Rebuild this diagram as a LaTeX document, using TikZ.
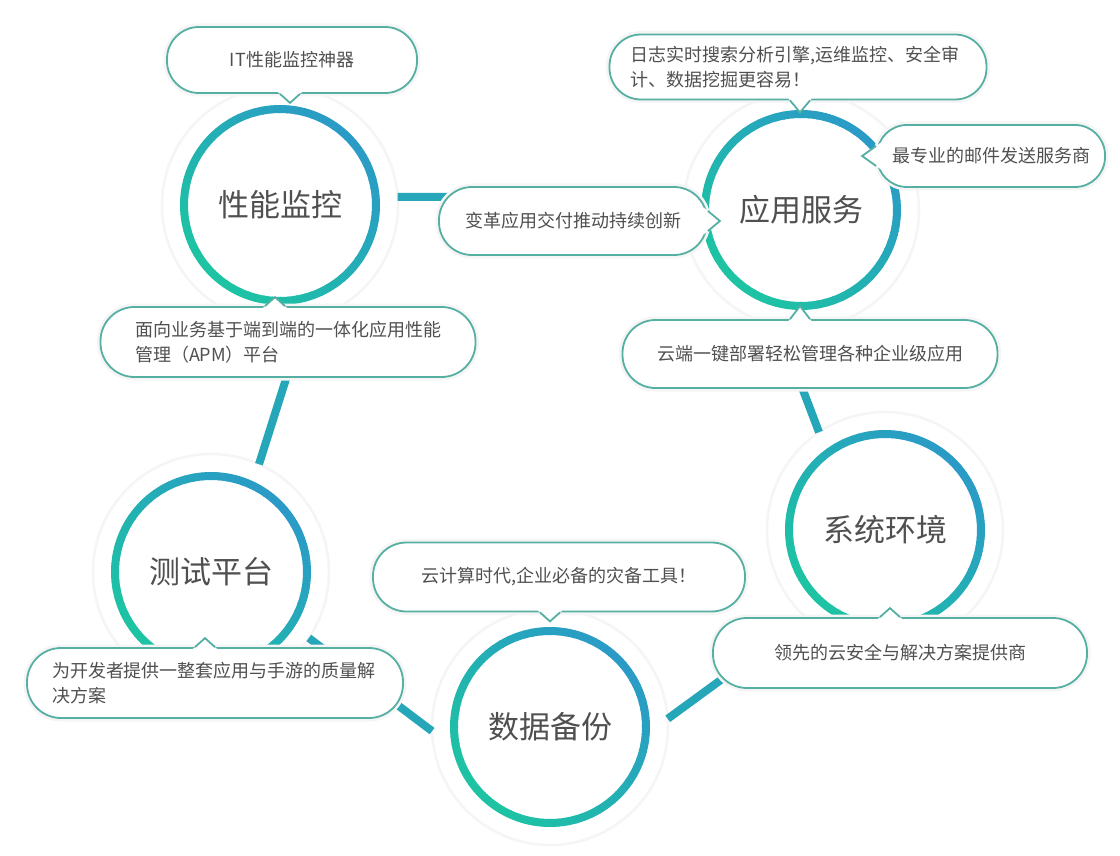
\documentclass[tikz,border=0pt]{standalone}
\usepackage{fontspec}
\setmainfont{Noto Sans CJK SC}
\usetikzlibrary{calc}
\definecolor{ringgreen}{HTML}{1DC3A3}
\definecolor{ringblue}{HTML}{2A9BC6}
\definecolor{linkteal}{HTML}{25A7B9}
\definecolor{bubline}{HTML}{55AFA2}
\definecolor{txtgray}{HTML}{505050}

% small pointer of a bubble: anchor, shift of its base, offset of its tip
\newcommand{\tail}[3]{%
  \coordinate (tb) at ([shift={#2}]#1);
  \coordinate (tt) at ([shift={#3}]tb);
  \coordinate (ta) at ($(tb)!10pt!90:(tt)$);
  \coordinate (tc) at ($(tb)!10pt!-90:(tt)$);
  \fill[white] ($(tt)!1.35!(ta)$) -- (tt) -- ($(tt)!1.35!(tc)$) -- cycle;
  \draw[tailedge] (ta) -- (tt) -- (tc);
}

\begin{document}
\begin{tikzpicture}[
    x=1pt, y=-1pt,
    hub/.style={circle, minimum size=236pt, inner sep=0pt, outer sep=0pt,
                fill=white, draw=black!4, line width=2.5pt, text=txtgray,
                font=\fontsize{31}{36}\selectfont},
    link/.style={draw=linkteal, line width=8pt},
    bubble/.style={rectangle, draw=bubline, line width=1.8pt, fill=white,
                text=txtgray, inner sep=0pt, align=center,
                font=\fontsize{18}{25}\selectfont,
                preaction={draw=black!4, line width=7pt}},
    tailedge/.style={draw=bubline, line width=1.8pt},
]
    \path[use as bounding box, fill=white] (0,0) rectangle (1120,856);

    % the five topics
    \node[hub] (c1) at (280,205) {性能监控};
    \node[hub] (c2) at (801,210) {应用服务};
    \node[hub] (c3) at (885,530) {系统环境};
    \node[hub] (c4) at (550,727) {数据备份};
    \node[hub] (c5) at (211,572) {测试平台};

    \draw[link] (c1.4) -- (c2.174);
    \draw[link] (c1.-78) -- (c5.66);
    \draw[link] (c5.-34) -- (c4.182);
    \draw[link] (c4.4) -- (c3.228);
    \draw[link] (c2.-101) -- (c3.124);

    % rings, green to blue
    \foreach \c in {c1,c2,c3,c4,c5}{
        \foreach \a in {0,5,...,355}{
            \pgfmathsetmacro{\t}{50+50*cos(\a+2.5-45)}
            \draw[line width=8pt, ringblue!\t!ringgreen]
                ([shift={(\a:96pt)}]\c.center) arc[start angle=\a, end angle=\a+5.5, radius=96pt];
        }
    }

    % callouts
    \node[bubble, minimum width=250pt, minimum height=66pt, rounded corners=32pt] (b1) at (292,60) {IT性能监控神器};
    \node[bubble, minimum width=377pt, minimum height=65pt, rounded corners=31.5pt,
          align=left, text width=335pt] (b2) at (798,67) {日志实时搜索分析引擎,运维监控、安全审\\计、数据挖掘更容易！};
    \node[bubble, minimum width=228pt, minimum height=62pt, rounded corners=30pt] (b3) at (991,156) {最专业的邮件发送服务商};
    \node[bubble, minimum width=268pt, minimum height=68pt, rounded corners=33pt] (b4) at (573,221) {变革应用交付推动持续创新};
    \node[bubble, minimum width=375pt, minimum height=70pt, rounded corners=34pt,
          align=left, text width=306pt] (b5) at (288,342) {面向业务基于端到端的一体化应用性能\\管理（APM）平台};
    \node[bubble, minimum width=375pt, minimum height=68pt, rounded corners=33pt] (b6) at (810,354) {云端一键部署轻松管理各种企业级应用};
    \node[bubble, minimum width=372pt, minimum height=69pt, rounded corners=33.5pt] (b7) at (559,577) {云计算时代,企业必备的灾备工具！};
    \node[bubble, minimum width=376pt, minimum height=70pt, rounded corners=34pt,
          align=left, text width=326pt] (b8) at (215,683) {为开发者提供一整套应用与手游的质量解\\决方案};
    \node[bubble, minimum width=374pt, minimum height=70pt, rounded corners=34pt] (b9) at (900,653) {领先的云安全与解决方案提供商};

    \tail{b1.south}{(-2pt,0pt)}{(0pt,-9pt)}
    \tail{b2.south}{(2pt,0pt)}{(0pt,-12pt)}
    \tail{b3.west}{(0pt,0pt)}{(-14pt,0pt)}
    \tail{b4.east}{(0pt,0pt)}{(12pt,0pt)}
    \tail{b5.north}{(-13pt,0pt)}{(0pt,9pt)}
    \tail{b6.north}{(-10pt,0pt)}{(0pt,13pt)}
    \tail{b7.south}{(-9pt,0pt)}{(0pt,-9pt)}
    \tail{b8.north}{(-10pt,0pt)}{(0pt,9pt)}
    \tail{b9.north}{(-10pt,0pt)}{(0pt,9pt)}
\end{tikzpicture}
\end{document}
